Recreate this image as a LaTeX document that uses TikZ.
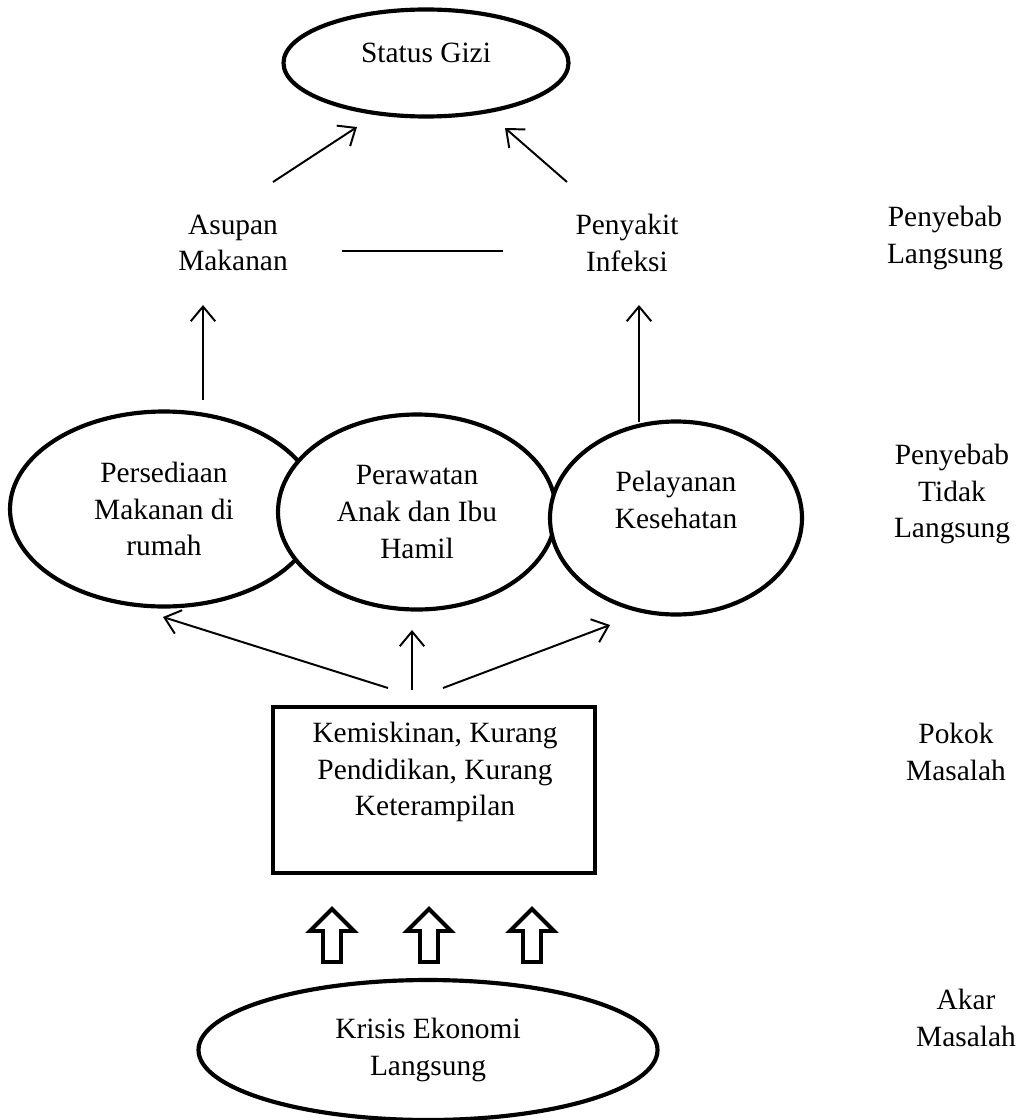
\documentclass[tikz,border=0pt]{standalone}
\usepackage{fontspec}
\setmainfont{Liberation Serif}
\usetikzlibrary{arrows.meta}

\def\u{0.01435cm}

\tikzset{
  oval/.style={shape=ellipse,draw=black,line width=1.7pt,fill=white,inner sep=0pt,align=center},
  lbl/.style={align=center},
  arr/.style={line width=0.8pt,-{Straight Barb[length=6pt,width=10pt]}},
  blockarr/.style={draw=black,line width=1.6pt,fill=white,line join=miter}
}
\usetikzlibrary{shapes.geometric}

\begin{document}
\begin{tikzpicture}[x=\u,y=-\u,font=\fontsize{12}{15}\selectfont]

\useasboundingbox (0,0) rectangle (1028,1120);

\node[oval,minimum width=285*\u,minimum height=107*\u,text depth=8pt] (status) at (426,63) {Status Gizi};

\node[lbl] (asupan) at (233,243) {Asupan\\Makanan};
\node[lbl] (penyakit) at (627,243) {Penyakit\\Infeksi};

\node[oval,minimum width=308*\u,minimum height=195*\u] (pers) at (164,509) {Persediaan\\Makanan di\\rumah};
\node[oval,minimum width=278*\u,minimum height=195*\u] (peraw) at (417,512) {Perawatan\\Anak dan Ibu\\Hamil};
\node[oval,minimum width=252*\u,minimum height=193*\u] (pelay) at (676,518) {Pelayanan\\Kesehatan\\\mbox{}};

\node[shape=rectangle,draw=black,line width=1.7pt,minimum width=322*\u,minimum height=166*\u] (box) at (434,790) {};
\node[lbl] (pokok) at (435,772) {Kemiskinan, Kurang\\Pendidikan, Kurang\\Keterampilan};

\node[oval,minimum width=459*\u,minimum height=140*\u] (krisis) at (428,1050) {Krisis Ekonomi\\Langsung};

% keterangan
\node[lbl] (ket1) at (945,238) {Penyebab\\Langsung};
\node[lbl] (ket2) at (952,494) {Penyebab\\Tidak\\Langsung};
\node[lbl] (ket3) at (956,752) {Pokok\\Masalah};
\node[lbl] (ket4) at (966,1018) {Akar\\Masalah};

\coordinate (asupanTop) at (273,182);
\coordinate (statusL) at (357,127);
\coordinate (penyakitTop) at (567,182);
\coordinate (statusR) at (505,128);
\coordinate (linkL) at (342,251);
\coordinate (linkR) at (503,251);
\coordinate (persTop) at (203,400);
\coordinate (asupanBot) at (203,305);
\coordinate (pelayTop) at (639,422);
\coordinate (penyakitBot) at (639,305);
\coordinate (boxL) at (388,688);
\coordinate (boxM) at (412,690);
\coordinate (boxR) at (443,688);
\coordinate (persBot) at (163,617);
\coordinate (perawBot) at (412,630);
\coordinate (pelayBot) at (610,625);

\draw[arr] (asupanTop) -- (statusL);
\draw[arr] (penyakitTop) -- (statusR);
\draw[line width=0.8pt] (linkL) -- (linkR);
\draw[arr] (persTop) -- (asupanBot);
\draw[arr] (pelayTop) -- (penyakitBot);
\draw[arr] (boxL) -- (persBot);
\draw[arr] (boxM) -- (perawBot);
\draw[arr] (boxR) -- (pelayBot);

% panah blok
\foreach \cx in {332,429,532}
  \draw[blockarr] (\cx,909) -- (\cx+22,931) -- (\cx+9,931) -- (\cx+9,962)
    -- (\cx-9,962) -- (\cx-9,931) -- (\cx-22,931) -- cycle;

\end{tikzpicture}
\end{document}
